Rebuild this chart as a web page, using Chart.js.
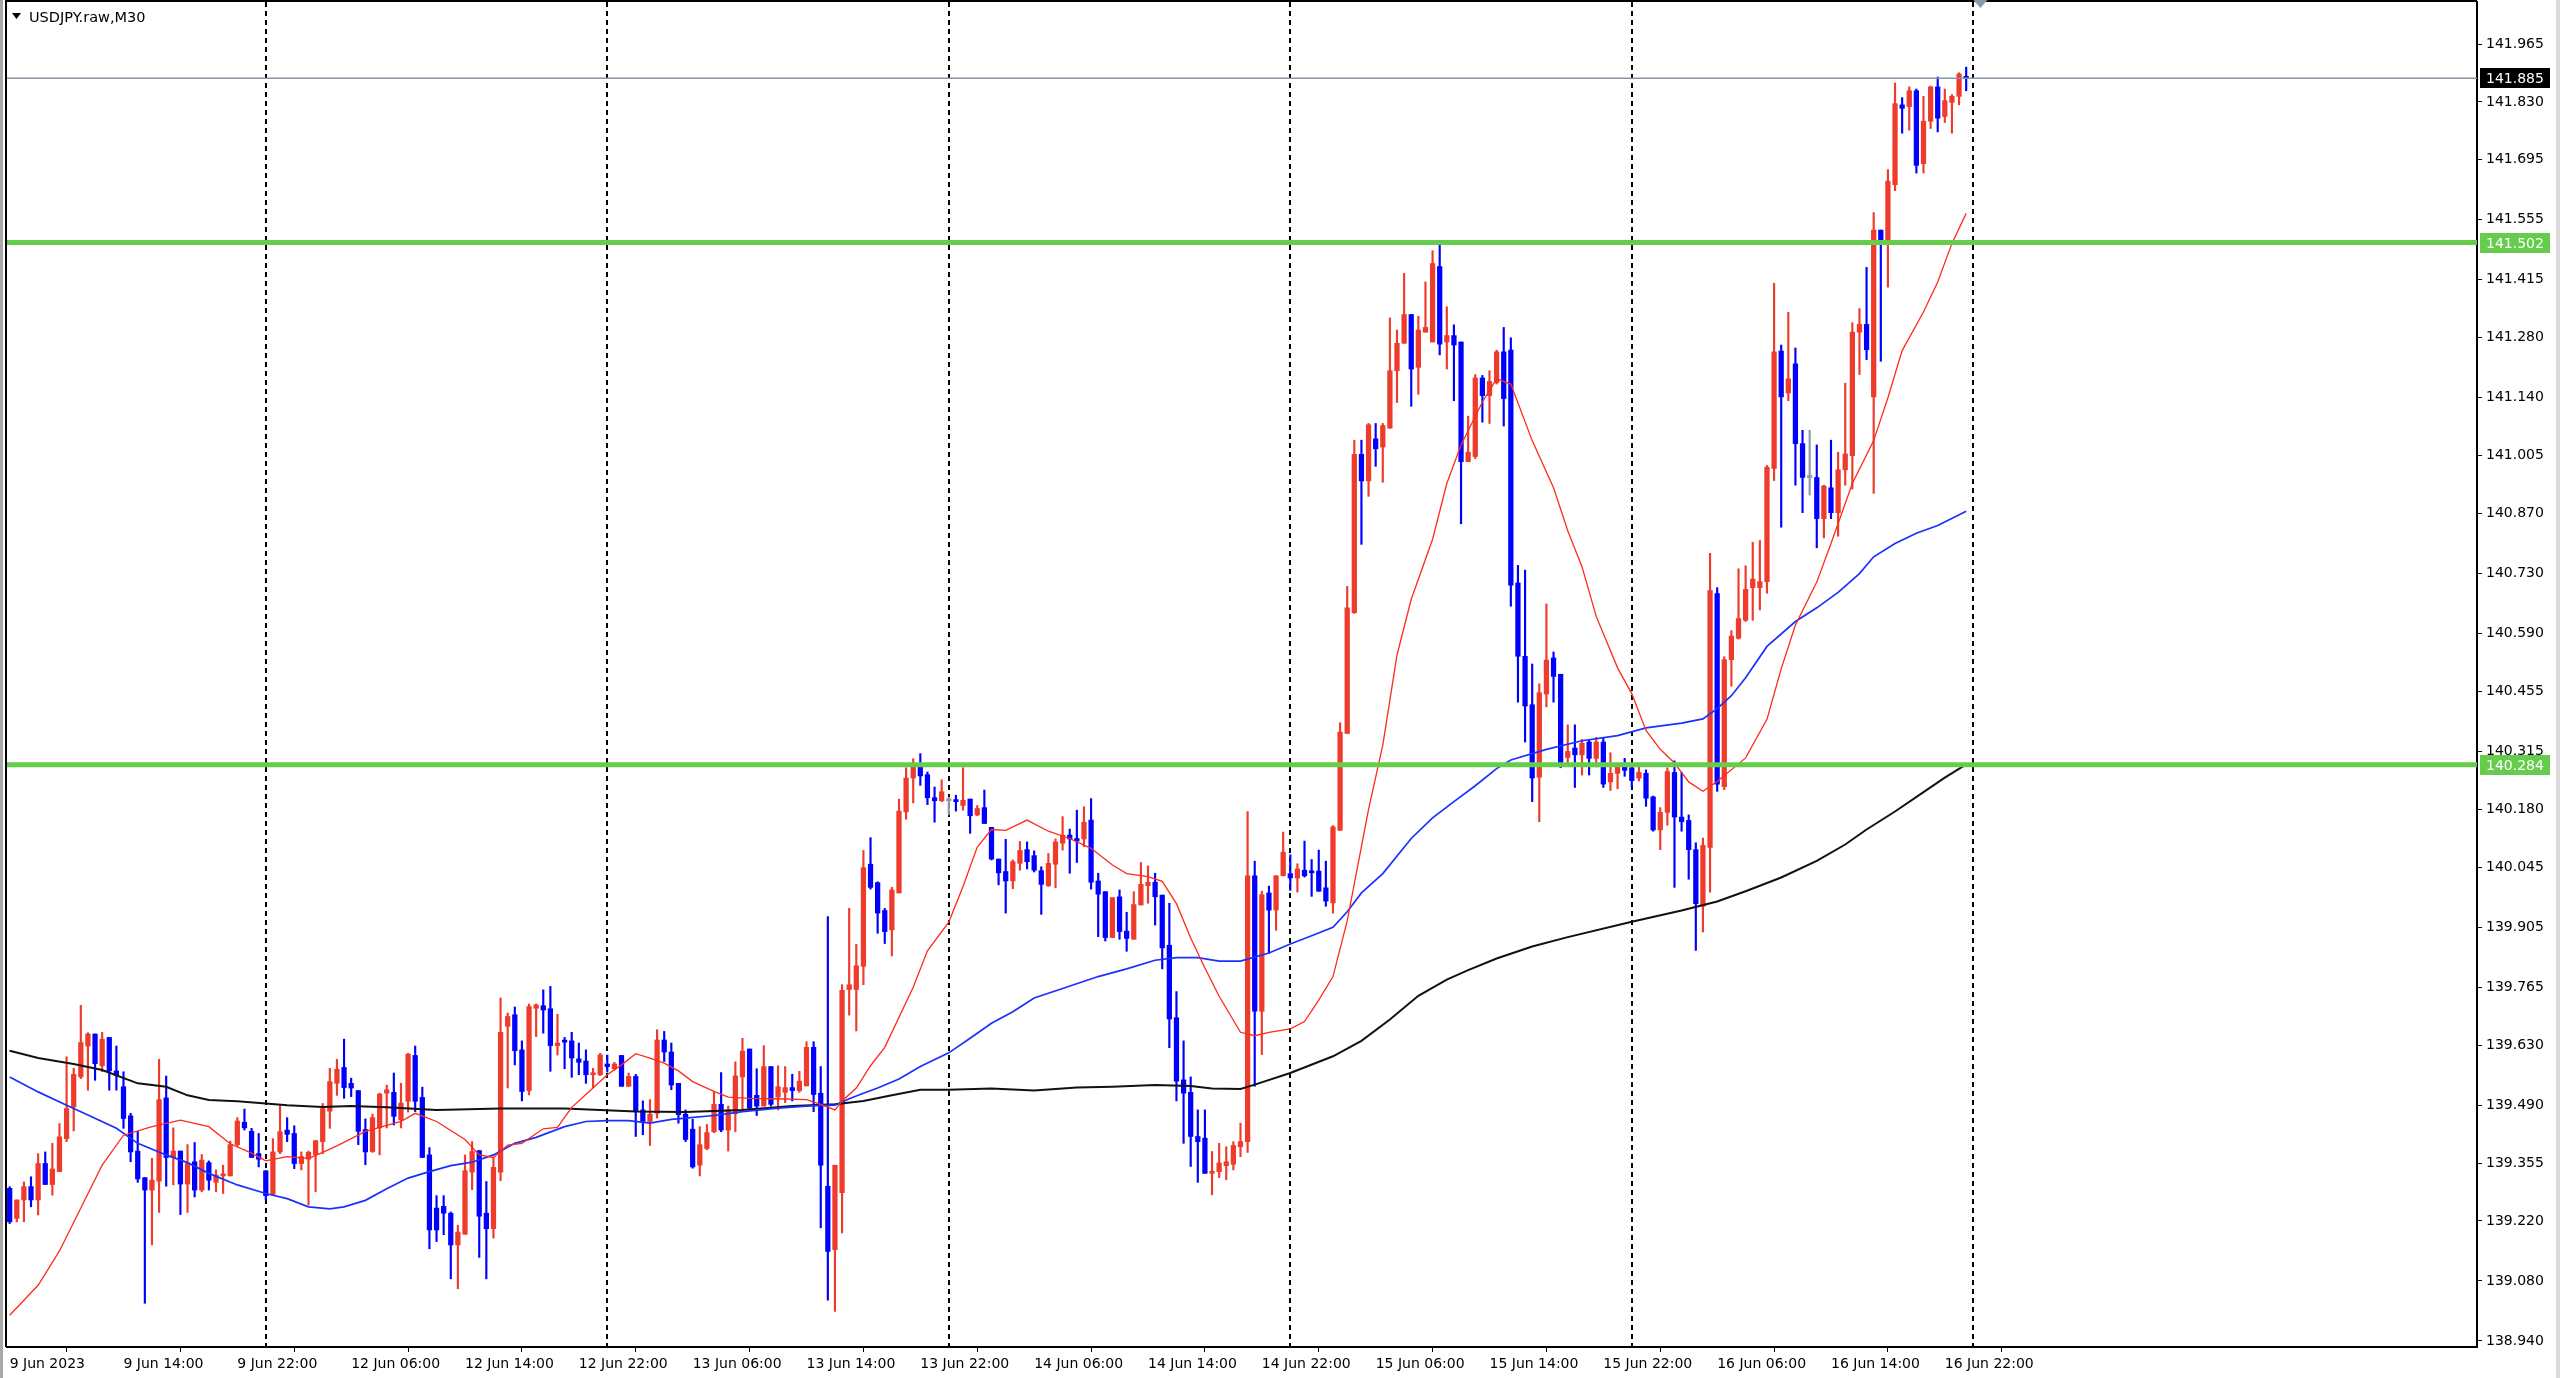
<!DOCTYPE html>
<html>
<head>
<meta charset="utf-8">
<script src="https://cdn.jsdelivr.net/npm/chart.js@4.4.0/dist/chart.umd.min.js"></script>
<style>
  html, body { margin: 0; padding: 0; background: #fff; }
  #wrap { width: 2560px; height: 1378px; position: relative; }
</style>
</head>
<body>
<div id="wrap"><canvas id="chart"></canvas></div>

<script>
    /*
     * Data
     */
    const symbolTitle = 'USDJPY.raw,M30';

    // x axis: bar index of each time label, and the labels themselves
    const labelBars = [0, 16, 32, 48, 64, 80, 96, 112, 128, 144, 160, 176, 192, 208, 224, 240, 256, 272];
    const timeLabels = ['9 Jun 2023', '9 Jun 14:00', '9 Jun 22:00', '12 Jun 06:00', '12 Jun 14:00', '12 Jun 22:00',
        '13 Jun 06:00', '13 Jun 14:00', '13 Jun 22:00', '14 Jun 06:00', '14 Jun 14:00', '14 Jun 22:00',
        '15 Jun 06:00', '15 Jun 14:00', '15 Jun 22:00', '16 Jun 06:00', '16 Jun 14:00', '16 Jun 22:00'];
    // day separators (bar index of midnight)
    const separatorBars = [36, 84, 132, 180, 228, 276];
    const priceTicks = [141.965, 141.830, 141.695, 141.555, 141.415, 141.280, 141.140, 141.005, 140.870, 140.730,
        140.590, 140.455, 140.315, 140.180, 140.045, 139.905, 139.765, 139.630, 139.490, 139.355, 139.220, 139.080, 138.940];

    // M30 candles, 9 Jun 06:00 .. 16 Jun 23:30
    const opens = [
        139.296,139.226,139.269,139.300,139.269,139.354,139.305,139.335,139.412,139.486,
        139.556,139.628,139.656,139.582,139.648,139.570,139.533,139.465,139.383,139.321,
        139.292,139.313,139.507,139.368,139.383,139.306,139.358,139.292,139.356,139.310,
        139.325,139.325,139.398,139.450,139.429,139.377,139.337,139.282,139.381,139.432,
        139.424,139.354,139.364,139.375,139.405,139.476,139.541,139.578,139.541,139.524,
        139.433,139.382,139.437,139.518,139.520,139.456,139.499,139.606,139.508,139.374,
        139.250,139.254,139.238,139.164,139.189,139.334,139.384,139.238,139.202,139.334,
        139.674,139.701,139.619,139.524,139.716,139.722,139.715,139.629,139.640,139.640,
        139.598,139.593,139.561,139.561,139.586,139.575,139.606,139.534,139.557,139.479,
        139.452,139.471,139.642,139.614,139.541,139.469,139.434,139.350,139.389,139.428,
        139.492,139.432,139.470,139.556,139.621,139.513,139.488,139.580,139.509,139.520,
        139.531,139.524,139.535,139.625,139.518,139.301,139.153,139.286,139.760,139.760,
        139.814,140.052,140.009,139.944,139.899,139.985,140.174,140.253,140.284,140.261,
        140.207,140.200,140.200,140.201,140.189,140.204,140.167,140.184,140.138,140.064,
        140.035,140.013,140.054,140.086,140.072,140.037,140.002,140.052,140.101,140.120,
        140.112,140.111,140.155,140.013,139.988,139.881,139.976,139.896,139.877,139.957,
        140.002,140.010,139.980,139.863,139.694,139.549,139.520,139.417,139.413,139.331,
        139.335,139.349,139.352,139.393,139.405,140.025,139.709,139.985,139.945,140.025,
        140.030,140.020,140.038,140.036,140.036,139.997,139.962,140.131,140.357,140.639,
        141.008,140.946,141.044,141.025,141.069,141.203,141.267,141.334,141.211,141.293,
        141.270,141.446,141.270,141.285,141.270,140.991,141.003,141.186,141.145,141.175,
        141.247,141.251,140.708,140.537,140.424,140.255,140.449,140.533,140.495,140.301,
        140.323,140.307,140.337,140.299,140.337,140.244,140.264,140.279,140.277,140.253,
        140.264,140.209,140.132,140.173,140.266,140.162,140.154,140.086,139.954,140.091,
        140.683,140.233,140.529,140.579,140.621,140.697,140.697,140.711,140.975,141.249,
        141.151,141.219,141.033,140.954,140.954,140.858,140.930,140.872,140.972,141.005,
        141.293,141.311,141.142,141.531,141.497,141.637,141.823,141.819,141.856,141.686,
        141.785,141.865,141.796,141.829,141.843,141.888];
    const highs = [
        139.300,139.269,139.311,139.323,139.377,139.381,139.401,139.447,139.603,139.576,
        139.723,139.659,139.656,139.660,139.648,139.628,139.568,139.471,139.429,139.321,
        139.366,139.597,139.558,139.437,139.383,139.398,139.403,139.375,139.360,139.339,
        139.350,139.406,139.461,139.481,139.436,139.424,139.337,139.412,139.489,139.461,
        139.442,139.381,139.383,139.408,139.494,139.576,139.597,139.644,139.553,139.524,
        139.458,139.469,139.518,139.537,139.565,139.541,139.611,139.628,139.532,139.391,
        139.279,139.279,139.241,139.210,139.374,139.405,139.384,139.312,139.366,139.740,
        139.705,139.719,139.640,139.726,139.726,139.759,139.767,139.702,139.648,139.660,
        139.635,139.619,139.576,139.611,139.607,139.590,139.606,139.565,139.562,139.500,
        139.503,139.666,139.662,139.635,139.541,139.479,139.457,139.440,139.445,139.522,
        139.566,139.488,139.591,139.646,139.621,139.575,139.629,139.580,139.582,139.580,
        139.562,139.569,139.638,139.638,139.580,139.930,139.350,139.771,139.949,139.865,
        140.084,140.114,140.011,139.949,139.998,140.204,140.277,140.298,140.310,140.267,
        140.232,140.249,140.208,140.213,140.277,140.204,140.189,140.225,140.138,140.064,
        140.110,140.062,140.105,140.104,140.083,140.046,140.077,140.111,140.163,140.134,
        140.178,140.186,140.205,140.031,139.988,139.974,139.992,139.940,139.988,140.056,
        140.048,140.031,139.980,139.961,139.755,139.640,139.556,139.479,139.479,139.382,
        139.401,139.393,139.405,139.448,140.175,140.059,139.989,140.001,140.025,140.127,
        140.074,140.053,140.106,140.063,140.085,140.059,140.142,140.382,140.700,141.041,
        141.041,141.080,141.080,141.080,141.326,141.298,141.430,141.334,141.330,141.410,
        141.483,141.502,141.352,141.310,141.270,141.097,141.194,141.192,141.203,141.251,
        141.304,141.280,140.749,140.738,140.519,140.473,140.659,140.547,140.495,140.377,
        140.377,140.343,140.343,140.348,140.348,140.312,140.288,140.299,140.283,140.283,
        140.272,140.211,140.184,140.277,140.293,140.266,140.167,140.102,140.113,140.777,
        140.697,140.536,140.597,140.741,140.748,140.803,140.807,140.982,141.407,141.263,
        141.339,141.256,141.064,141.064,141.030,140.936,141.041,141.013,141.174,141.315,
        141.348,141.444,141.572,141.531,141.672,141.874,141.840,141.865,141.860,141.843,
        141.867,141.888,141.860,141.847,141.898,141.911];
    const lows = [
        139.214,139.218,139.218,139.253,139.234,139.305,139.280,139.335,139.405,139.430,
        139.552,139.525,139.548,139.568,139.525,139.525,139.436,139.358,139.310,139.028,
        139.164,139.240,139.301,139.304,139.235,139.240,139.276,139.288,139.292,139.288,
        139.284,139.325,139.393,139.432,139.368,139.346,139.269,139.279,139.377,139.405,
        139.342,139.339,139.257,139.288,139.377,139.436,139.513,139.506,139.510,139.398,
        139.351,139.380,139.374,139.437,139.444,139.437,139.474,139.475,139.368,139.155,
        139.172,139.188,139.085,139.062,139.189,139.293,139.135,139.085,139.180,139.314,
        139.530,139.584,139.500,139.514,139.650,139.658,139.569,139.607,139.575,139.555,
        139.561,139.541,139.531,139.559,139.567,139.572,139.534,139.534,139.417,139.421,
        139.396,139.460,139.592,139.526,139.448,139.405,139.343,139.325,139.386,139.426,
        139.428,139.383,139.428,139.479,139.481,139.466,139.488,139.488,139.479,139.496,
        139.500,139.520,139.535,139.475,139.204,139.035,139.009,139.192,139.700,139.663,
        139.771,139.994,139.891,139.867,139.838,139.985,140.157,140.195,140.236,140.191,
        140.150,140.198,140.167,140.176,140.178,140.124,140.165,140.147,140.062,140.004,
        139.938,139.995,140.038,140.041,140.034,139.935,140.000,139.997,140.085,140.031,
        140.056,140.093,139.994,139.883,139.873,139.881,139.877,139.849,139.877,139.957,
        139.961,139.910,139.808,139.624,139.500,139.401,139.347,139.310,139.331,139.281,
        139.321,139.316,139.339,139.370,139.380,139.534,139.608,139.844,139.898,140.025,
        139.991,139.987,140.022,139.977,139.989,139.954,139.938,140.131,140.357,140.637,
        140.798,140.910,140.980,140.943,141.069,141.129,141.267,141.120,141.148,141.293,
        141.270,141.240,141.207,141.133,140.846,140.991,140.998,141.083,141.080,141.172,
        141.074,140.654,140.430,140.337,140.198,140.151,140.419,140.430,140.277,140.288,
        140.231,140.260,140.260,140.279,140.231,140.224,140.228,140.257,140.231,140.246,
        140.187,140.129,140.086,140.143,139.998,140.129,140.017,139.851,139.894,139.987,
        140.222,140.226,140.467,140.577,140.618,140.621,140.645,140.684,140.947,140.838,
        141.133,140.936,140.872,140.913,140.790,140.813,140.858,140.817,140.936,140.927,
        141.194,141.229,140.917,141.225,141.398,141.623,141.757,141.764,141.664,141.664,
        141.768,141.760,141.782,141.757,141.823,141.856];
    const closes = [
        139.218,139.269,139.300,139.269,139.354,139.305,139.341,139.416,139.482,139.562,
        139.636,139.656,139.587,139.644,139.570,139.560,139.459,139.381,139.318,139.292,
        139.315,139.503,139.368,139.383,139.306,139.354,139.292,139.362,139.315,139.327,
        139.328,139.398,139.453,139.437,139.368,139.364,139.279,139.381,139.428,139.422,
        139.354,139.370,139.380,139.407,139.482,139.545,139.574,139.531,139.530,139.429,
        139.381,139.461,139.516,139.526,139.464,139.495,139.609,139.499,139.368,139.199,
        139.199,139.238,139.164,139.194,139.337,139.382,139.231,139.202,139.345,139.660,
        139.697,139.617,139.522,139.720,139.724,139.712,139.629,139.635,139.637,139.600,
        139.590,139.561,139.565,139.607,139.580,139.586,139.534,139.557,139.475,139.452,
        139.469,139.642,139.614,139.537,139.468,139.410,139.346,139.398,139.426,139.492,
        139.432,139.479,139.558,139.616,139.483,139.488,139.580,139.492,139.533,139.531,
        139.524,139.546,139.625,139.515,139.350,139.149,139.350,139.758,139.771,139.815,
        140.044,139.998,139.938,139.895,139.992,140.176,140.253,140.284,140.258,140.207,
        140.200,140.221,140.200,140.198,140.201,140.165,140.182,140.147,140.064,140.032,
        140.013,140.058,140.084,140.058,140.038,140.005,140.054,140.104,140.120,140.111,
        140.106,140.150,140.010,139.982,139.881,139.974,139.895,139.879,139.958,140.005,
        140.010,139.976,139.857,139.691,139.546,139.518,139.417,139.405,139.331,139.336,
        139.355,139.358,139.396,139.405,140.025,139.709,139.981,139.945,140.025,140.080,
        140.020,140.041,140.025,140.032,139.989,139.966,140.139,140.360,140.650,141.008,
        140.946,141.077,141.021,141.075,141.203,141.267,141.334,141.207,141.298,141.304,
        141.453,141.265,141.285,141.263,140.991,141.013,141.186,141.145,141.178,141.247,
        141.138,140.703,140.537,140.421,140.253,140.452,140.528,140.490,140.288,140.315,
        140.307,140.334,140.299,140.337,140.239,140.264,140.279,140.271,140.247,140.266,
        140.206,140.132,140.173,140.268,140.162,140.151,140.086,139.960,140.096,140.690,
        140.239,140.529,140.584,140.625,140.693,140.717,140.711,140.978,141.247,141.142,
        141.184,141.033,140.954,140.954,140.858,140.934,140.872,140.972,141.009,141.293,
        141.311,141.252,141.531,141.497,141.645,141.826,141.815,141.856,141.682,141.785,
        141.865,141.792,141.833,141.843,141.895,141.885];

    // moving averages, read at sampled bars
    const fastMaBars = [0,4,7,10,13,16,20,24,28,31,34,36,39,42,44,46,50,55,57,60,64,66,68,70,72,75,77,79,82,84,86,88,90,92,94,96,99,101,104,108,112,114,116,117,119,121,123,127,129,132,134,136,138,140,143,146,149,152,155,157,160,162,164,166,168,170,173,175,177,180,182,184,186,188,191,193,195,197,200,202,204,207,209,211,214,217,219,221,223,226,228,230,232,234,236,238,240,244,247,249,251,254,256,259,262,264,266,269,271,273,275];
    const fastMaValues = [139.000,139.070,139.150,139.250,139.350,139.420,139.440,139.455,139.440,139.400,139.378,139.360,139.370,139.366,139.380,139.395,139.429,139.452,139.471,139.452,139.410,139.374,139.368,139.397,139.401,139.435,139.438,139.485,139.530,139.561,139.584,139.610,139.600,139.588,139.570,139.545,139.522,139.509,139.506,139.505,139.503,139.492,139.479,139.500,139.530,139.582,139.625,139.765,139.850,139.917,140.000,140.092,140.133,140.131,140.155,140.129,140.112,140.089,140.050,140.030,140.023,140.012,139.960,139.880,139.810,139.744,139.660,139.652,139.660,139.668,139.685,139.735,139.790,139.920,140.180,140.330,140.540,140.670,140.810,140.940,141.030,141.130,141.184,141.172,141.040,140.930,140.830,140.746,140.630,140.510,140.450,140.364,140.320,140.288,140.244,140.222,140.245,140.300,140.390,140.508,140.610,140.710,140.800,140.940,141.040,141.140,141.250,141.340,141.410,141.500,141.570];

    const midMaBars = [0,4,8,11,15,18,22,25,28,32,36,39,42,45,47,50,53,56,59,62,65,68,71,74,78,81,84,87,90,93,95,99,103,108,113,116,118,120,122,125,128,132,135,138,141,144,148,153,157,161,164,167,170,173,177,180,183,186,188,190,193,197,200,203,206,209,211,216,221,226,230,235,238,240,242,244,247,251,254,257,260,262,265,268,271,275];
    const midMaValues = [139.556,139.521,139.490,139.467,139.436,139.401,139.374,139.356,139.331,139.304,139.284,139.272,139.253,139.248,139.253,139.268,139.295,139.320,139.335,139.349,139.357,139.374,139.401,139.415,139.440,139.452,139.454,139.454,139.448,139.457,139.460,139.466,139.475,139.483,139.489,139.490,139.505,139.518,139.530,139.551,139.580,139.612,139.646,139.681,139.708,139.740,139.762,139.790,139.808,139.828,139.834,139.834,139.826,139.826,139.845,139.866,139.885,139.905,139.941,139.985,140.030,140.112,140.160,140.198,140.235,140.275,140.295,140.320,140.340,140.352,140.370,140.381,140.391,140.415,140.445,140.487,140.560,140.618,140.650,140.686,140.730,140.769,140.800,140.824,140.842,140.875];

    const slowMaBars = [0,4,9,13,18,22,25,28,32,36,39,44,48,53,60,69,78,88,95,103,110,116,120,124,128,132,138,144,150,155,161,166,169,173,175,180,186,190,194,198,202,205,209,214,219,228,235,240,244,249,254,258,261,265,269,272,275];
    const slowMaValues = [139.617,139.600,139.586,139.572,139.541,139.533,139.513,139.502,139.499,139.494,139.490,139.486,139.488,139.485,139.479,139.482,139.482,139.475,139.474,139.479,139.488,139.492,139.500,139.513,139.526,139.526,139.529,139.524,139.531,139.533,139.537,139.535,139.529,139.528,139.538,139.565,139.604,139.640,139.690,139.745,139.783,139.805,139.832,139.860,139.882,139.918,139.944,139.965,139.989,140.021,140.060,140.098,140.133,140.175,140.220,140.254,140.285];

    const levelPrices = [141.502, 140.284];
    const bidPrice = 141.885;

    /*
     * Configuration
     */
    const xMin = -0.375, xMax = 346.8;
    const yMin = 138.926, yMax = 142.063;
    const upColor = '#ee3b2b';
    const downColor = '#0000ff';
    const dojiColor = '#8c99a6';
    const levelColor = '#66cc4c';
    const bidColor = '#8795a4';
    const fontFamily = "'DejaVu Sans', Verdana, sans-serif";
    const shiftMarkerBar = 277;

    Chart.defaults.font.family = fontFamily;
    Chart.defaults.font.size = 14;
    Chart.defaults.color = '#000';

    function candleColor(i) {
        if (closes[i] > opens[i]) return upColor;
        if (closes[i] < opens[i]) return downColor;
        return dojiColor;
    }

    const wickData = highs.map((h, i) => ({ x: i, y: [lows[i], h] }));
    const bodyData = opens.map((o, i) => ({ x: i, y: [Math.min(o, closes[i]), Math.max(o, closes[i])] }));
    const maLine = (bars, values) => bars.map((b, i) => ({ x: b, y: values[i] }));
    const flatLine = (price) => [{ x: xMin, y: price }, { x: xMax, y: price }];

    const decorations = {
        id: 'decorations',
        beforeDatasetsDraw(chart) {
            const { ctx, chartArea: a, scales: { x } } = chart;
            ctx.save();
            ctx.strokeStyle = '#000';
            ctx.lineWidth = 2;
            ctx.setLineDash([5, 4]);
            separatorBars.forEach(b => {
                const px = Math.round(x.getPixelForValue(b));
                ctx.beginPath();
                ctx.moveTo(px, a.top);
                ctx.lineTo(px, a.bottom);
                ctx.stroke();
            });
            ctx.restore();
        },
        afterDraw(chart) {
            const { ctx, chartArea: a, scales: { x, y } } = chart;
            ctx.save();
            // window frame
            ctx.fillStyle = '#a8a8a8';
            ctx.fillRect(0, 0, 3, chart.height);
            ctx.fillStyle = '#dcdcdc';
            ctx.fillRect(chart.width - 4, 0, 4, chart.height);
            ctx.strokeStyle = '#000';
            ctx.lineWidth = 2;
            ctx.beginPath();
            ctx.moveTo(a.left - 1, a.bottom);
            ctx.lineTo(a.left - 1, a.top - 1);
            ctx.lineTo(a.right, a.top - 1);
            ctx.stroke();

            // title
            ctx.fillStyle = '#000';
            ctx.beginPath();
            ctx.moveTo(12, 13);
            ctx.lineTo(21, 13);
            ctx.lineTo(16.5, 19);
            ctx.closePath();
            ctx.fill();
            ctx.font = '14.5px ' + fontFamily;
            ctx.textBaseline = 'alphabetic';
            ctx.textAlign = 'left';
            ctx.fillText(symbolTitle, 29, 22);

            // chart shift marker
            const sx = x.getPixelForValue(shiftMarkerBar);
            ctx.fillStyle = '#8a9aab';
            ctx.beginPath();
            ctx.moveTo(sx - 7, 0);
            ctx.lineTo(sx + 7, 0);
            ctx.lineTo(sx, 8);
            ctx.closePath();
            ctx.fill();

            // price labels on the axis
            ctx.font = '14px ' + fontFamily;
            const tag = (price, bg) => {
                const py = Math.round(y.getPixelForValue(price));
                ctx.fillStyle = bg;
                ctx.fillRect(a.right + 3, py - 10, 70, 20);
                ctx.fillStyle = '#fff';
                ctx.textBaseline = 'middle';
                ctx.fillText(price.toFixed(3), a.right + 9, py + 1);
            };
            levelPrices.forEach(p => tag(p, levelColor));
            tag(bidPrice, '#000');
            ctx.restore();
        }
    };

    const chart = new Chart(document.getElementById('chart'), {
        type: 'bar',
        data: {
            datasets: [
                ...levelPrices.map(p => ({
                    type: 'line', data: flatLine(p), borderColor: levelColor, borderWidth: 5,
                    pointRadius: 0, order: 0
                })),
                {
                    type: 'line', data: flatLine(bidPrice), borderColor: bidColor, borderWidth: 1.5,
                    pointRadius: 0, order: 1
                },
                {
                    type: 'line', data: maLine(fastMaBars, fastMaValues), borderColor: '#ff2a1a', borderWidth: 1.3,
                    pointRadius: 0, tension: 0, order: 2
                },
                {
                    type: 'line', data: maLine(midMaBars, midMaValues), borderColor: '#1a30ff', borderWidth: 1.7,
                    pointRadius: 0, tension: 0, order: 3
                },
                {
                    type: 'line', data: maLine(slowMaBars, slowMaValues), borderColor: '#111', borderWidth: 2,
                    pointRadius: 0, tension: 0, order: 4
                },
                {
                    type: 'bar', data: bodyData, grouped: false, barThickness: 4.6, minBarLength: 2,
                    backgroundColor: ctx => candleColor(ctx.dataIndex), borderWidth: 0, order: 5
                },
                {
                    type: 'bar', data: wickData, grouped: false, barThickness: 1.5,
                    backgroundColor: ctx => candleColor(ctx.dataIndex), borderWidth: 0, order: 6
                }
            ]
        },
        options: {
            responsive: true,
            maintainAspectRatio: false,
            animation: false,
            layout: { padding: { left: 7, top: 2, right: 0, bottom: 0 } },
            plugins: { legend: { display: false }, tooltip: { enabled: false } },
            scales: {
                x: {
                    type: 'linear',
                    min: xMin,
                    max: xMax,
                    offset: false,
                    afterBuildTicks: s => { s.ticks = labelBars.map(v => ({ value: v })); },
                    afterFit: s => { s.height = 31; s.paddingLeft = 0; s.paddingRight = 0; },
                    ticks: {
                        autoSkip: false, maxRotation: 0, minRotation: 0, align: 'start', padding: 4,
                        callback: (v, i) => timeLabels[i]
                    },
                    grid: { drawOnChartArea: false, tickLength: 5, color: '#000' },
                    border: { display: true, color: '#000', width: 2 }
                },
                y: {
                    type: 'linear',
                    position: 'right',
                    min: yMin,
                    max: yMax,
                    afterBuildTicks: s => { s.ticks = priceTicks.map(v => ({ value: v })); },
                    afterFit: s => { s.width = 83; s.paddingTop = 0; s.paddingBottom = 0; },
                    ticks: { padding: 4, callback: v => v.toFixed(3) },
                    grid: { drawOnChartArea: false, tickLength: 5, color: '#000' },
                    border: { display: true, color: '#000', width: 2 }
                }
            }
        },
        plugins: [decorations]
    });
</script>
</body>
</html>
